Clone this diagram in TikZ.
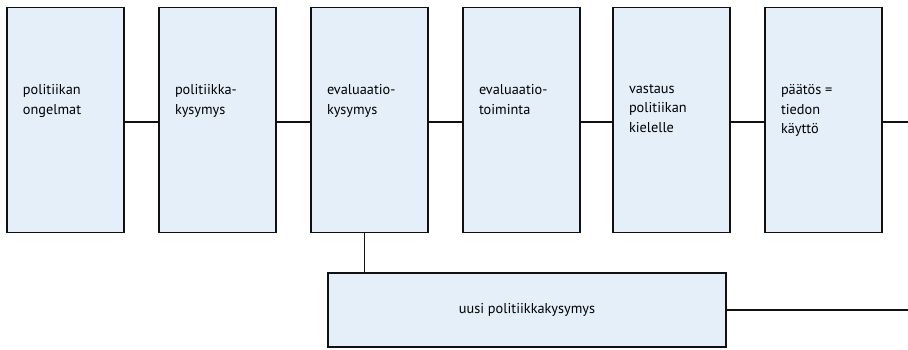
\documentclass[tikz,border=0pt]{standalone}
\usepackage{fontspec}
\setmainfont{PT Sans}
\usepackage{tikz}
\usepackage{xcolor}
\usetikzlibrary{positioning,calc}
\definecolor{boxfill}{HTML}{E5EFFA}
\definecolor{ink}    {HTML}{111111}
\tikzset{
  stagebox/.style ={draw=ink, fill=boxfill, line width=1.8pt, outer sep=0pt,
                    minimum width=117pt, minimum height=225pt, inner sep=0pt},
  stagetext/.style={anchor=north west, inner sep=0pt, outer sep=0pt, align=left,
                    xshift=16pt, yshift=-77pt,
                    font=\fontsize{14.3}{19.5}\selectfont,
                    execute at begin node=\strut},
  widebox/.style  ={draw=ink, fill=boxfill, line width=1.8pt, outer sep=0pt,
                    minimum width=398pt, minimum height=74pt,
                    font=\fontsize{14.3}{19.5}\selectfont},
  link/.style     ={draw=ink, line width=1.8pt},
}
\begin{document}
\begin{tikzpicture}[x=1pt,y=-1pt,node distance=35pt]
    \useasboundingbox (0,0) rectangle (908,349);
    \node[stagebox,label={[stagetext]north west:politiikan\\ongelmat}] (b1) at (65.5,120) {};
    \node[stagebox,right=35pt of b1,label={[stagetext]north west:politiikka-\\kysymys}] (b2) {};
    \node[stagebox,right=35pt of b2,label={[stagetext]north west:evaluaatio-\\kysymys}] (b3) {};
    \node[stagebox,right=35pt of b3,label={[stagetext]north west:evaluaatio-\\toiminta}] (b4) {};
    \node[stagebox,right=33pt of b4,label={[stagetext]north west:vastaus\\politiikan\\kielelle}] (b5) {};
    \node[stagebox,right=35pt of b5,label={[stagetext]north west:päätös =\\tiedon\\käyttö}] (b6) {};

    \node[widebox] (uusi) at (527,310) {uusi politiikkakysymys};

    \coordinate (out1) at (908,122);
    \coordinate (out2) at (908,310);

    \draw[link] ([yshift=-2pt]b1.east) -- ([yshift=-2pt]b2.west);
    \draw[link] ([yshift=-2pt]b2.east) -- ([yshift=-2pt]b3.west);
    \draw[link] ([yshift=-2pt]b3.east) -- ([yshift=-2pt]b4.west);
    \draw[link] ([yshift=-2pt]b4.east) -- ([yshift=-2pt]b5.west);
    \draw[link] ([yshift=-2pt]b5.east) -- ([yshift=-2pt]b6.west);
    \draw[link] ([yshift=-2pt]b6.east) -- (out1);
    \draw[link] ([xshift=-5pt]b3.south) -- ([xshift=-5pt]b3.south |- uusi.north);
    \draw[link] (uusi.east) -- (out2);
  \end{tikzpicture}
\end{document}
